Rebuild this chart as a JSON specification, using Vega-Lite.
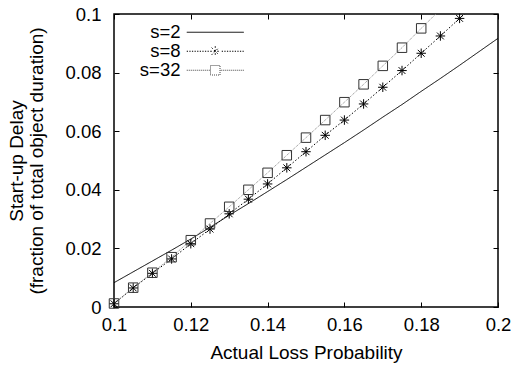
{
  "$schema": "https://vega.github.io/schema/vega-lite/v6.json",
  "width": 384,
  "height": 293,
  "autosize": "none",
  "padding": {"left": 114, "top": 14, "right": 15, "bottom": 59},
  "config": {
    "view": {"stroke": "#000", "strokeWidth": 1.5},
    "font": "Liberation Sans",
    "axis": {
      "labelFont": "Liberation Sans", "labelFontSize": 18.5, "labelColor": "#000", "labelFlush": false,
      "titleFont": "Liberation Sans", "titleFontSize": 19, "titleFontWeight": "normal", "titleColor": "#000",
      "domain": false, "grid": false, "tickColor": "#000", "tickSize": -5, "tickWidth": 1
    }
  },
  "data": {"values": [
    {"p": 0.100, "d": 0.0083, "s": "s=2"},
    {"p": 0.105, "d": 0.0120, "s": "s=2"},
    {"p": 0.110, "d": 0.0157, "s": "s=2"},
    {"p": 0.115, "d": 0.0194, "s": "s=2"},
    {"p": 0.120, "d": 0.0232, "s": "s=2"},
    {"p": 0.125, "d": 0.0272, "s": "s=2"},
    {"p": 0.130, "d": 0.0313, "s": "s=2"},
    {"p": 0.135, "d": 0.0353, "s": "s=2"},
    {"p": 0.140, "d": 0.0394, "s": "s=2"},
    {"p": 0.145, "d": 0.0435, "s": "s=2"},
    {"p": 0.150, "d": 0.0477, "s": "s=2"},
    {"p": 0.155, "d": 0.0519, "s": "s=2"},
    {"p": 0.160, "d": 0.0561, "s": "s=2"},
    {"p": 0.165, "d": 0.0604, "s": "s=2"},
    {"p": 0.170, "d": 0.0648, "s": "s=2"},
    {"p": 0.175, "d": 0.0691, "s": "s=2"},
    {"p": 0.180, "d": 0.0736, "s": "s=2"},
    {"p": 0.185, "d": 0.0780, "s": "s=2"},
    {"p": 0.190, "d": 0.0825, "s": "s=2"},
    {"p": 0.195, "d": 0.0871, "s": "s=2"},
    {"p": 0.200, "d": 0.0917, "s": "s=2"},
    {"p": 0.100, "d": 0.0011, "s": "s=8"},
    {"p": 0.105, "d": 0.0065, "s": "s=8"},
    {"p": 0.110, "d": 0.0115, "s": "s=8"},
    {"p": 0.115, "d": 0.0164, "s": "s=8"},
    {"p": 0.120, "d": 0.0216, "s": "s=8"},
    {"p": 0.125, "d": 0.0266, "s": "s=8"},
    {"p": 0.130, "d": 0.0318, "s": "s=8"},
    {"p": 0.135, "d": 0.0368, "s": "s=8"},
    {"p": 0.140, "d": 0.0420, "s": "s=8"},
    {"p": 0.145, "d": 0.0475, "s": "s=8"},
    {"p": 0.150, "d": 0.0530, "s": "s=8"},
    {"p": 0.155, "d": 0.0586, "s": "s=8"},
    {"p": 0.160, "d": 0.0638, "s": "s=8"},
    {"p": 0.165, "d": 0.0693, "s": "s=8"},
    {"p": 0.170, "d": 0.0750, "s": "s=8"},
    {"p": 0.175, "d": 0.0807, "s": "s=8"},
    {"p": 0.180, "d": 0.0866, "s": "s=8"},
    {"p": 0.185, "d": 0.0925, "s": "s=8"},
    {"p": 0.190, "d": 0.0985, "s": "s=8"},
    {"p": 0.195, "d": 0.1045, "s": "s=8"},
    {"p": 0.100, "d": 0.0012, "s": "s=32"},
    {"p": 0.105, "d": 0.0066, "s": "s=32"},
    {"p": 0.110, "d": 0.0117, "s": "s=32"},
    {"p": 0.115, "d": 0.0170, "s": "s=32"},
    {"p": 0.120, "d": 0.0228, "s": "s=32"},
    {"p": 0.125, "d": 0.0285, "s": "s=32"},
    {"p": 0.130, "d": 0.0342, "s": "s=32"},
    {"p": 0.135, "d": 0.0400, "s": "s=32"},
    {"p": 0.140, "d": 0.0458, "s": "s=32"},
    {"p": 0.145, "d": 0.0518, "s": "s=32"},
    {"p": 0.150, "d": 0.0578, "s": "s=32"},
    {"p": 0.155, "d": 0.0638, "s": "s=32"},
    {"p": 0.160, "d": 0.0699, "s": "s=32"},
    {"p": 0.165, "d": 0.0760, "s": "s=32"},
    {"p": 0.170, "d": 0.0823, "s": "s=32"},
    {"p": 0.175, "d": 0.0885, "s": "s=32"},
    {"p": 0.180, "d": 0.0951, "s": "s=32"},
    {"p": 0.185, "d": 0.1015, "s": "s=32"}
  ]},
  "layer": [
    {
      "mark": {"type": "line", "clip": true, "strokeWidth": 1},
      "encoding": {
        "x": {"field": "p", "type": "quantitative",
          "scale": {"domain": [0.1, 0.2], "nice": false, "zero": false},
          "axis": {"orient": "bottom", "values": [0.1, 0.12, 0.14, 0.16, 0.18, 0.2], "format": "~g",
            "title": "Actual Loss Probability", "labelPadding": 13, "titlePadding": 10}},
        "y": {"field": "d", "type": "quantitative",
          "scale": {"domain": [0, 0.1], "nice": false, "zero": false},
          "axis": {"orient": "left", "values": [0, 0.02, 0.04, 0.06, 0.08, 0.1], "format": "~g",
            "title": ["Start-up Delay", "(fraction of total object duration)"], "titleLineHeight": 20,
            "labelPadding": 18, "titlePadding": 18}},
        "stroke": {"field": "s", "type": "nominal",
          "scale": {"domain": ["s=32", "s=8", "s=2"], "range": ["#888", "#000", "#000"]}, "legend": null},
        "strokeDash": {"field": "s", "type": "nominal",
          "scale": {"domain": ["s=2", "s=8", "s=32"], "range": [[1, 0], [1.5, 2], [1, 1]]},
          "legend": {"orient": "none", "legendX": 92, "legendY": 9, "title": null, "padding": 0,
            "symbolSize": 100, "labelOffset": -44, "labelAlign": "right", "labelFontSize": 18.5,
            "labelFont": "Liberation Sans", "labelColor": "#000", "rowPadding": -1.3, "labelLimit": 300,
            "encode": {"symbols": {"update": {
              "shape": {"signal": "datum.value === 's=2' ? 'M-5.7,0H5.7' : datum.value === 's=8' ? 'M-5.7,0h0.25M-5.18,0h0.25M-4.66,0h0.25M-4.14,0h0.25M-3.62,0h0.25M-3.1,0h0.25M-2.58,0h0.25M-2.06,0h0.25M-1.54,0h0.25M1.3,0h0.25M1.82,0h0.25M2.34,0h0.25M2.86,0h0.25M3.38,0h0.25M3.9,0h0.25M4.42,0h0.25M4.94,0h0.25M5.45,0h0.25M-1,0H1M0,-1V1M-0.72,-0.72L0.72,0.72M-0.72,0.72L0.72,-0.72' : 'M-5.7,0h0.2M-5.3,0h0.2M-4.9,0h0.2M-4.5,0h0.2M-4.1,0h0.2M-3.7,0h0.2M-3.3,0h0.2M-2.9,0h0.2M-2.5,0h0.2M-2.1,0h0.2M-1.7,0h0.2M-1.3,0h0.2M1.1,0h0.2M1.5,0h0.2M1.9,0h0.2M2.3,0h0.2M2.7,0h0.2M3.1,0h0.2M3.5,0h0.2M3.9,0h0.2M4.3,0h0.2M4.7,0h0.2M5.1,0h0.2M5.5,0h0.2M-0.95,-0.95H0.95V0.95H-0.95Z'"},
              "stroke": {"signal": "datum.value === 's=32' ? '#444' : '#000'"},
              "strokeDash": {"value": [1, 0]},
              "fill": {"value": "transparent"},
              "strokeWidth": {"value": 1},
              "opacity": {"value": 1}
            }}}}}
      }
    },
    {
      "transform": [{"filter": "datum.s !== 's=2' && datum.d <= 0.1"}],
      "mark": {"type": "point", "filled": false, "size": 90, "strokeWidth": 1, "opacity": 1},
      "encoding": {
        "x": {"field": "p", "type": "quantitative",
          "scale": {"domain": [0.1, 0.2], "nice": false, "zero": false},
          "axis": {"orient": "top", "values": [0.1, 0.12, 0.14, 0.16, 0.18, 0.2], "labels": false, "title": null}},
        "y": {"field": "d", "type": "quantitative",
          "scale": {"domain": [0, 0.1], "nice": false, "zero": false},
          "axis": {"orient": "right", "values": [0, 0.02, 0.04, 0.06, 0.08, 0.1], "labels": false, "title": null}},
        "shape": {"field": "s", "type": "nominal",
          "scale": {"domain": ["s=8", "s=32"], "range": ["M-1,0H1M0,-1V1M-0.72,-0.72L0.72,0.72M-0.72,0.72L0.72,-0.72", "square"]},
          "legend": null},
        "color": {"field": "s", "type": "nominal",
          "scale": {"domain": ["s=8", "s=32"], "range": ["#000", "#333"]}, "legend": null}
      }
    }
  ],
  "resolve": {"axis": {"x": "independent", "y": "independent"}}
}
